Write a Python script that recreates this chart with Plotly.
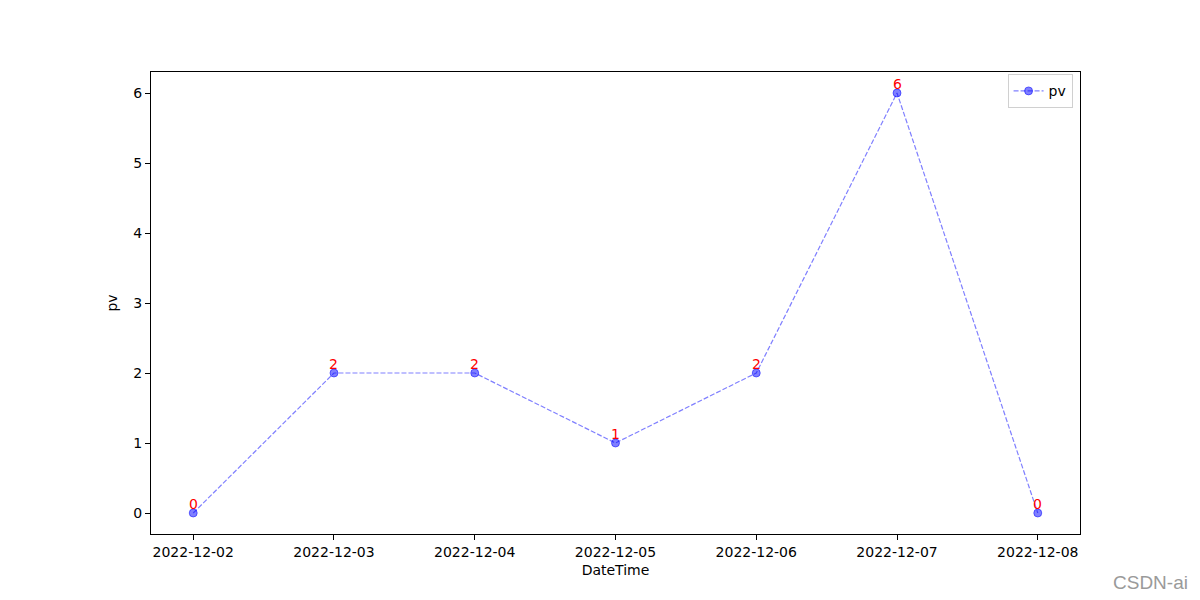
import plotly.graph_objects as go

dates = ["2022-12-02", "2022-12-03", "2022-12-04", "2022-12-05", "2022-12-06", "2022-12-07", "2022-12-08"]
pv = [0, 2, 2, 1, 2, 6, 0]

fig = go.Figure()
fig.add_trace(go.Scatter(
    x=dates, y=pv, mode="lines+markers", name="pv",
    line=dict(color="rgba(0,0,255,0.5)", width=1.2, dash="5px,2px"),
    marker=dict(color="rgba(0,0,255,0.5)", size=8, line=dict(width=1, color="rgba(0,0,255,0.5)")),
))
for d, v in zip(dates, pv):
    fig.add_annotation(x=d, y=v, text=str(v), showarrow=False, yanchor="bottom",
                       yshift=-1, font=dict(color="red", size=14, family="DejaVu Sans"))

fig.add_annotation(xref="paper", yref="paper", x=1.118, y=-0.104, xanchor="right", yanchor="middle",
                   text="CSDN-ai", showarrow=False,
                   font=dict(color="#9a9a9a", size=19, family="Liberation Sans"))

axis_common = dict(showline=True, linecolor="black", linewidth=1, mirror=True,
                   ticks="outside", ticklen=5, tickcolor="black", showgrid=False, zeroline=False,
                   tickfont=dict(size=14, color="black", family="DejaVu Sans"))
fig.update_layout(
    width=1200, height=600, plot_bgcolor="white", paper_bgcolor="white",
    margin=dict(l=143, r=128, t=64, b=74),
    font=dict(family="DejaVu Sans", size=14, color="black"),
    xaxis=dict(type="date", range=["2022-12-01 16:48", "2022-12-08 07:12"],
               tickformat="%Y-%m-%d", dtick=86400000, tick0="2022-12-02",
               title=dict(text="DateTime", standoff=6, font=dict(size=14)), **axis_common),
    yaxis=dict(range=[-0.3, 6.3], dtick=1,
               title=dict(text="pv", standoff=12, font=dict(size=14)), **axis_common),
    showlegend=True,
    legend=dict(x=0.992, y=0.995, xanchor="right", yanchor="top", bordercolor="#d0d0d0",
                borderwidth=1, bgcolor="white", font=dict(size=14)),
)
fig.write_html("out.html")
